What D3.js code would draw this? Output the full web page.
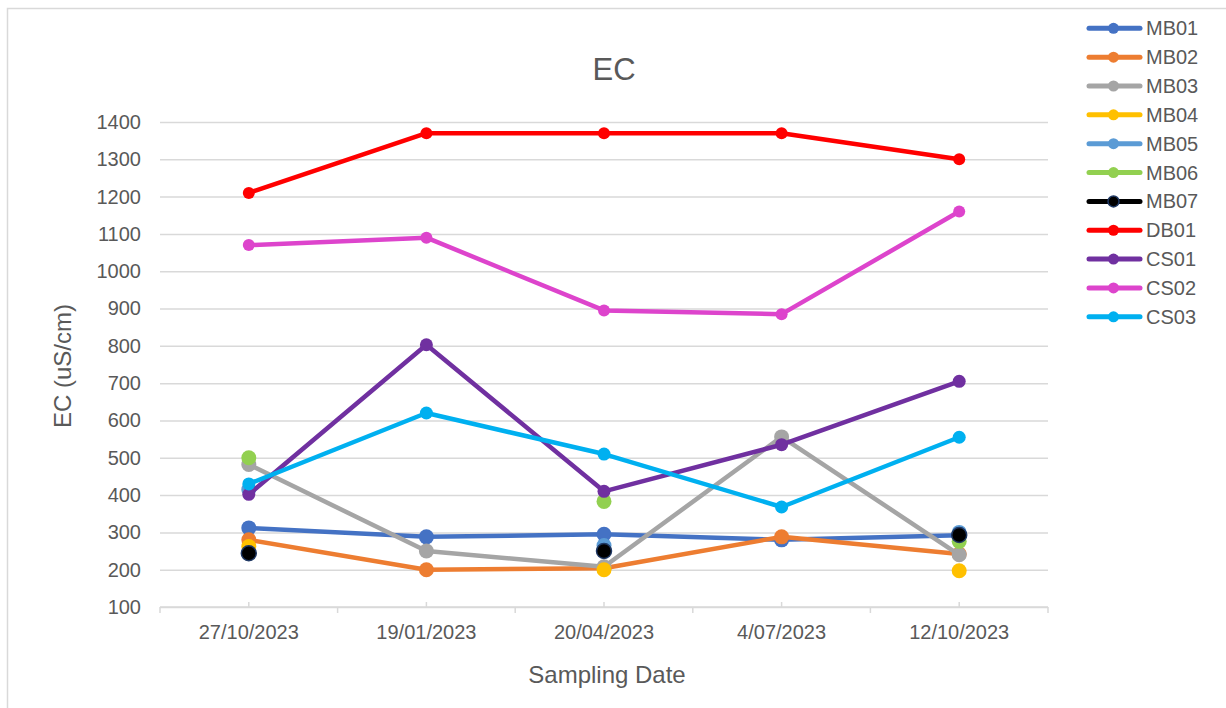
<!DOCTYPE html>
<html>
<head>
<meta charset="utf-8">
<script src="https://cdn.jsdelivr.net/npm/d3@7/dist/d3.min.js"></script>
<style>
  html, body { margin: 0; padding: 0; background: #fff; }
  svg { display: block; font-family: "Liberation Sans", Arial, sans-serif; }
</style>
</head>
<body>
<svg id="chart" width="1226" height="708"></svg>
<script>
// ---- data ----
const dates = ["27/10/2023", "19/01/2023", "20/04/2023", "4/07/2023", "12/10/2023"];
const yTicks = [100, 200, 300, 400, 500, 600, 700, 800, 900, 1000, 1100, 1200, 1300, 1400];

const seriesNames = ["MB01", "MB02", "MB03", "MB04", "MB05", "MB06", "MB07", "DB01", "CS01", "CS02", "CS03"];
const MB01 = [312, 288, 295, 280, 292];
const MB02 = [280, 200, 204, 288, 242];
const MB03 = [482, 250, 208, 556, 240];
const MB04 = [262, null, 200, null, 197];
const MB05 = [415, null, 265, null, 300];
const MB06 = [500, null, 383, null, 276];
const MB07 = [244, null, 250, null, 293];
const DB01 = [1210, 1370, 1370, 1370, 1300];
const CS01 = [402, 803, 410, 535, 705];
const CS02 = [1070, 1090, 895, 885, 1160];
const CS03 = [430, 620, 510, 368, 555];
const seriesValues = [MB01, MB02, MB03, MB04, MB05, MB06, MB07, DB01, CS01, CS02, CS03];

// ---- styles ----
const colors = ["#4472C4", "#ED7D31", "#A5A5A5", "#FFC000", "#5B9BD5", "#92D050", "#000000", "#FF0000", "#7030A0", "#DD44CC", "#00B0F0"];
const markerR = [7.5, 7.5, 7.5, 7.5, 7.5, 7.5, 7.5, 6, 6.5, 6, 6.5];

const svg = d3.select("#chart");
const W = 1226, H = 708;
const plot = { left: 160, right: 1048, top: 122, bottom: 607 };
const textColor = "#595959";
const gridColor = "#D9D9D9";

// border
svg.append("rect").attr("x", 7.5).attr("y", 8.5).attr("width", 1240).attr("height", 720)
  .attr("fill", "#fff").attr("stroke", "#D9D9D9").attr("stroke-width", 1.5);

const x = d3.scaleBand().domain(dates).range([plot.left, plot.right]).paddingInner(0).paddingOuter(0);
const y = d3.scaleLinear().domain([100, 1400]).range([plot.bottom, plot.top]);

// gridlines + y labels
const yAxis = d3.axisLeft(y).tickValues(yTicks).tickSize(-(plot.right - plot.left)).tickPadding(19).tickFormat(d3.format("d"));
const gy = svg.append("g").attr("transform", `translate(${plot.left},0)`).call(yAxis);
gy.select(".domain").remove();
gy.selectAll(".tick line").attr("stroke", gridColor).attr("stroke-width", 1.5);
gy.selectAll(".tick text").attr("fill", textColor).attr("font-size", 20).attr("font-family", "Liberation Sans, Arial, sans-serif");

// x axis
const gx = svg.append("g").attr("transform", `translate(0,${plot.bottom})`);
gx.append("line").attr("x1", plot.left).attr("x2", plot.right).attr("y1", 0).attr("y2", 0)
  .attr("stroke", gridColor).attr("stroke-width", 1.5);
const bounds = dates.map(d => x(d)).concat([x(dates[dates.length - 1]) + x.bandwidth()]);
gx.selectAll("line.bt").data(bounds).enter().append("line").attr("class", "bt")
  .attr("x1", d => d).attr("x2", d => d).attr("y1", 0).attr("y2", 6)
  .attr("stroke", gridColor).attr("stroke-width", 1.5);
gx.selectAll("line.ct").data(dates).enter().append("line").attr("class", "ct")
  .attr("x1", d => x(d) + x.bandwidth() / 2).attr("x2", d => x(d) + x.bandwidth() / 2).attr("y1", 0).attr("y2", -5)
  .attr("stroke", gridColor).attr("stroke-width", 1.5);
gx.selectAll("text").data(dates).enter().append("text")
  .attr("x", d => x(d) + x.bandwidth() / 2).attr("y", 32)
  .attr("text-anchor", "middle").attr("fill", textColor).attr("font-size", 20).text(d => d);

// title & axis titles
svg.append("text").attr("x", 614).attr("y", 80).attr("text-anchor", "middle")
  .attr("fill", textColor).attr("font-size", 31).text("EC");
svg.append("text").attr("x", 607).attr("y", 683).attr("text-anchor", "middle")
  .attr("fill", textColor).attr("font-size", 24).text("Sampling Date");
svg.append("text").attr("transform", "translate(71,366) rotate(-90)").attr("text-anchor", "middle")
  .attr("fill", textColor).attr("font-size", 24).text("EC (uS/cm)");

// series
const cx = d => x(d) + x.bandwidth() / 2;
const line = d3.line().defined(d => d.v != null).x(d => cx(d.date)).y(d => y(d.v));
seriesNames.forEach((name, i) => {
  const pts = dates.map((d, j) => ({ date: d, v: seriesValues[i][j] }));
  const g = svg.append("g").attr("class", "series-" + name);
  g.append("path").datum(pts).attr("d", line).attr("fill", "none")
    .attr("stroke", colors[i]).attr("stroke-width", 4.5).attr("stroke-linejoin", "round").attr("stroke-linecap", "butt");
  g.selectAll("circle").data(pts.filter(p => p.v != null)).enter().append("circle")
    .attr("cx", p => cx(p.date)).attr("cy", p => y(p.v)).attr("r", markerR[i])
    .attr("fill", colors[i])
    .attr("stroke", name === "MB07" ? "#1F3864" : colors[i]).attr("stroke-width", name === "MB07" ? 1.5 : 0);
});

// legend
const lg = svg.append("g");
seriesNames.forEach((name, i) => {
  const ly = 28.3 + i * 28.85;
  lg.append("line").attr("x1", 1089).attr("x2", 1140).attr("y1", ly).attr("y2", ly)
    .attr("stroke", colors[i]).attr("stroke-width", 5).attr("stroke-linecap", "round");
  lg.append("circle").attr("cx", 1113.5).attr("cy", ly).attr("r", 5.5).attr("fill", colors[i])
    .attr("stroke", name === "MB07" ? "#1F3864" : "none").attr("stroke-width", 1.5);
  lg.append("text").attr("x", 1146).attr("y", ly + 7).attr("fill", textColor).attr("font-size", 20).text(name);
});
</script>
</body>
</html>
